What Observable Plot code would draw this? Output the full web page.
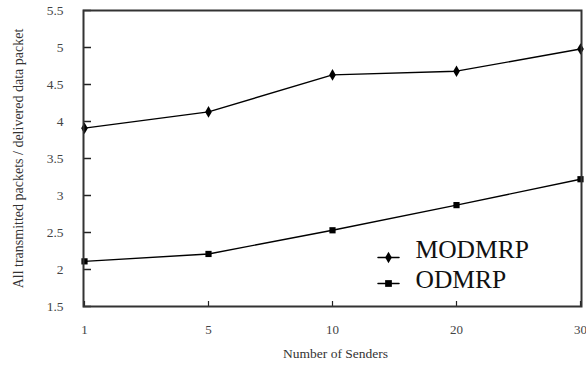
<!DOCTYPE html>
<html><head><meta charset="utf-8">
<script src="https://cdn.jsdelivr.net/npm/d3@7"></script>
<script src="https://cdn.jsdelivr.net/npm/@observablehq/plot@0.6"></script>
<style>body{margin:0;background:#fff} #chart{width:586px;height:368px}</style>
</head><body><div id="chart"></div>
<script>
const senders = ["1", "5", "10", "20", "30"];
const modmrp = [3.91, 4.13, 4.63, 4.68, 4.98];
const odmrp = [2.11, 2.21, 2.53, 2.87, 3.22];
const yTicks = [1.5, 2, 2.5, 3, 3.5, 4, 4.5, 5, 5.5];
const seriesNames = ["MODMRP", "ODMRP"];
const seriesSymbols = ["diamond", "square"];
const xLabel = "Number of Senders";
const yLabel = "All transmitted packets / delivered data packet";

const seriesValues = [modmrp, odmrp];
const data = seriesNames.flatMap((name, k) =>
  senders.map((s, i) => ({senders: s, value: seriesValues[k][i], series: name, symbol: seriesSymbols[k]})));

const hLine = {draw(ctx, l) { ctx.moveTo(0, 0); ctx.lineTo(0, -l); }};
const serif = "'Liberation Serif', 'DejaVu Serif', serif";

const legendMarks = seriesNames.flatMap((name, k) => [
  Plot.vector([name], {frameAnchor: "bottom-left", dx: 305, dy: -49 + k * 26, rotate: 90, length: 21, anchor: "middle", shape: hLine, stroke: "#000", strokeWidth: 1.5}),
  Plot.dot([name], {frameAnchor: "bottom-left", dx: 305, dy: -49 + k * 26, symbol: () => seriesSymbols[k], r: k ? 3.8 : 3.5, fill: "#000"}),
  Plot.text([name], {frameAnchor: "bottom-left", dx: 332, dy: -49 + k * 30, text: d => d, textAnchor: "start", fontSize: 25.5, fontFamily: serif, fill: "#111"})
]);

const chart = Plot.plot({
  width: 586, height: 368,
  marginLeft: 83, marginRight: 5, marginTop: 10, marginBottom: 62,
  style: {fontFamily: serif, color: "#444", background: "#fff"},
  x: {type: "point", domain: senders, padding: 0},
  y: {domain: [1.5, 5.5]},
  symbol: {type: "identity"},
  marks: [
    Plot.axisX(senders, {tickSize: 0, tickPadding: 18, fontSize: 13, fontFamily: serif, label: null}),
    Plot.axisY(yTicks, {tickSize: 0, tickPadding: 20, fontSize: 13.5, fontFamily: serif, tickFormat: d => String(d), label: null}),
    Plot.tickY(yTicks, {y: d => d, insetRight: 490, stroke: "#222", strokeWidth: 1.5}),
    Plot.tickX(senders, {x: d => d, insetTop: 291, stroke: "#222", strokeWidth: 1.2}),
    Plot.line(data, {x: "senders", y: "value", z: "series", stroke: "#000", strokeWidth: 1.4}),
    Plot.dot(data, {x: "senders", y: "value", symbol: "symbol", r: 3.5, fill: "#000"}),
    Plot.frame({stroke: "#333", strokeWidth: 2}),
    Plot.text([xLabel], {frameAnchor: "bottom", dx: 3, dy: 51, text: d => d, fontSize: 13.5, fontFamily: serif, fill: "#333"}),
    Plot.text([yLabel], {frameAnchor: "left", textAnchor: "middle", dx: -65, rotate: -90, text: d => d, fontSize: 14, fontFamily: serif, fill: "#333"}),
    ...legendMarks
  ]
});
document.getElementById("chart").appendChild(chart);
</script>
</body></html>
